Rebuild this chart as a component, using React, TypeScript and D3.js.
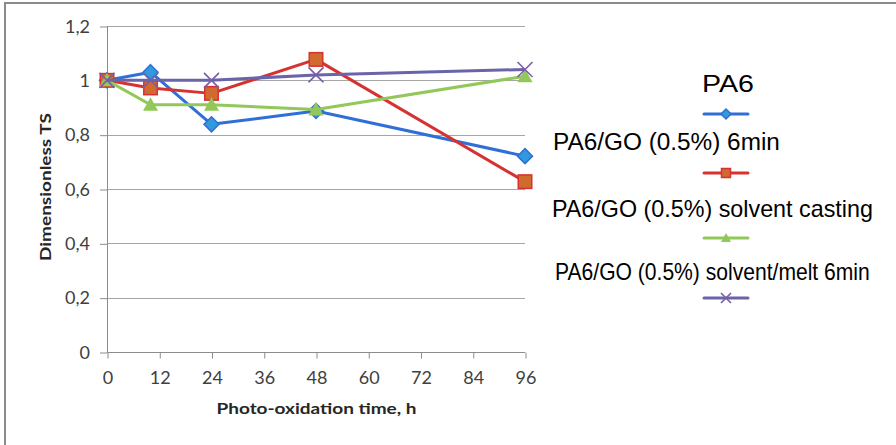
import { useEffect, useRef } from "react";
import * as d3 from "d3";

// photo-oxidation times (h) at which TS was measured
const times = [0, 10, 24, 48, 96];
const pa6 = [1.0, 1.03, 0.838, 0.887, 0.721];
const pa6go6min = [1.0, 0.972, 0.952, 1.077, 0.627];
const pa6goCasting = [1.0, 0.91, 0.91, 0.893, 1.015];
const pa6goSolventMelt = [1.0, 1.0, 1.0, 1.02, 1.04];

const seriesNames = [
  "PA6",
  "PA6/GO (0.5%) 6min",
  "PA6/GO (0.5%) solvent casting",
  "PA6/GO (0.5%) solvent/melt 6min",
];
const xTicks = [0, 12, 24, 36, 48, 60, 72, 84, 96];
const yTicks = [0, 0.2, 0.4, 0.6, 0.8, 1, 1.2];

const WIDTH = 896;
const HEIGHT = 445;

type MarkerKind = "diamond" | "square" | "triangle" | "cross";

const STYLES: { line: string; fill: string; stroke: string; marker: MarkerKind }[] = [
  { line: "#2f6fd6", fill: "#3399dd", stroke: "#2f6fd6", marker: "diamond" },
  { line: "#d73232", fill: "#d06a2e", stroke: "#d73232", marker: "square" },
  { line: "#92c85a", fill: "#92c85a", stroke: "#92c85a", marker: "triangle" },
  { line: "#6a64a8", fill: "none", stroke: "#7a5fa8", marker: "cross" },
];

// legend placement (text start, baseline, width; symbol y)
const LEGEND = [
  { x: 702, y: 91.5, w: 52, sy: 114 },
  { x: 553, y: 150, w: 227, sy: 173 },
  { x: 552, y: 216.5, w: 321, sy: 238 },
  { x: 555, y: 280, w: 315, sy: 298 },
];

function drawMarker(
  g: d3.Selection<SVGGElement, unknown, null, undefined>,
  kind: MarkerKind,
  cx: number,
  cy: number,
  s: number,
  st: { fill: string; stroke: string }
) {
  if (kind === "diamond") {
    g.append("path")
      .attr("d", `M${cx},${cy - s}L${cx + s},${cy}L${cx},${cy + s}L${cx - s},${cy}Z`)
      .attr("fill", st.fill)
      .attr("stroke", st.stroke)
      .attr("stroke-width", 1.5);
  } else if (kind === "square") {
    g.append("rect")
      .attr("x", cx - s * 0.9)
      .attr("y", cy - s * 0.9)
      .attr("width", s * 1.8)
      .attr("height", s * 1.8)
      .attr("fill", st.fill)
      .attr("stroke", st.stroke)
      .attr("stroke-width", 1.5);
  } else if (kind === "triangle") {
    g.append("path")
      .attr("d", `M${cx},${cy - s}L${cx + s},${cy + s * 0.8}L${cx - s},${cy + s * 0.8}Z`)
      .attr("fill", st.fill);
  } else {
    g.append("path")
      .attr("d", `M${cx - s},${cy - s}L${cx + s},${cy + s}M${cx - s},${cy + s}L${cx + s},${cy - s}`)
      .attr("stroke", st.stroke)
      .attr("stroke-width", 1.6)
      .attr("fill", "none");
  }
}

function Chart() {
  const ref = useRef<SVGSVGElement | null>(null);

  useEffect(() => {
    if (!ref.current) return;
    const svg = d3.select(ref.current);
    svg.selectAll("*").remove();

    const x = d3.scaleLinear().domain([0, 96]).range([107, 525]);
    const y = d3.scaleLinear().domain([0, 1.2]).range([352, 26]);

    // outer frame
    svg
      .append("rect")
      .attr("x", 5)
      .attr("y", 3)
      .attr("width", WIDTH + 20)
      .attr("height", HEIGHT + 20)
      .attr("fill", "#fff")
      .attr("stroke", "#8a8a8a")
      .attr("stroke-width", 2);

    // gridlines
    svg
      .append("g")
      .selectAll("line")
      .data(yTicks.filter((d) => d > 0))
      .join("line")
      .attr("x1", x(0))
      .attr("x2", x(96))
      .attr("y1", (d) => Math.round(y(d)) + 0.5)
      .attr("y2", (d) => Math.round(y(d)) + 0.5)
      .attr("stroke", "#a6a6a6");

    const fmt = (d: number) => (d === 0 || d === 1 ? String(d) : d3.format(".1f")(d).replace(".", ","));

    // y axis
    const yAxis = svg
      .append("g")
      .attr("transform", `translate(${x(0)},0.5)`)
      .call(d3.axisLeft(y).tickValues(yTicks).tickSize(7).tickPadding(10).tickFormat((d) => fmt(+d)));
    yAxis.select(".domain").remove();
    yAxis.selectAll("line").attr("stroke", "#8c8c8c");
    yAxis
      .selectAll("text")
      .attr("font-family", "Lato, 'Open Sans', sans-serif")
      .attr("font-size", 18)
      .attr("fill", "#404040");

    // x axis
    const xAxis = svg
      .append("g")
      .attr("transform", `translate(0.5,${Math.round(y(0)) + 0.5})`)
      .call(d3.axisBottom(x).tickValues(xTicks).tickSize(6).tickPadding(13).tickFormat((d) => String(d)));
    xAxis.select(".domain").remove();
    xAxis.selectAll("line").attr("stroke", "#8c8c8c");
    xAxis
      .selectAll("text")
      .attr("font-family", "Lato, 'Open Sans', sans-serif")
      .attr("font-size", 18)
      .attr("fill", "#404040");

    // axis lines
    svg
      .append("line")
      .attr("x1", x(0) + 0.5)
      .attr("x2", x(0) + 0.5)
      .attr("y1", y(1.2))
      .attr("y2", y(0))
      .attr("stroke", "#8c8c8c");
    svg
      .append("line")
      .attr("x1", x(0))
      .attr("x2", x(96))
      .attr("y1", Math.round(y(0)) + 0.5)
      .attr("y2", Math.round(y(0)) + 0.5)
      .attr("stroke", "#8c8c8c");

    // axis titles
    svg
      .append("text")
      .attr("transform", `translate(50.5,187) rotate(-90)`)
      .attr("text-anchor", "middle")
      .attr("font-family", "Lato, 'Open Sans', sans-serif")
      .attr("font-weight", "bold")
      .attr("font-size", 15)
      .attr("textLength", 148)
      .attr("lengthAdjust", "spacingAndGlyphs")
      .attr("fill", "#262626")
      .text("Dimensionless TS");
    svg
      .append("text")
      .attr("x", 316.5)
      .attr("y", 414)
      .attr("text-anchor", "middle")
      .attr("font-family", "Lato, 'Open Sans', sans-serif")
      .attr("font-weight", "bold")
      .attr("font-size", 16)
      .attr("textLength", 200)
      .attr("lengthAdjust", "spacingAndGlyphs")
      .attr("fill", "#262626")
      .text("Photo-oxidation time, h");

    // series
    const allSeries = [pa6, pa6go6min, pa6goCasting, pa6goSolventMelt];
    const line = d3
      .line<number>()
      .x((_, i) => x(times[i]))
      .y((d) => y(d));

    allSeries.forEach((values, si) => {
      const st = STYLES[si];
      const g = svg.append("g");
      g.append("path")
        .attr("d", line(values))
        .attr("fill", "none")
        .attr("stroke", st.line)
        .attr("stroke-width", 3)
        .attr("stroke-linejoin", "round");
      values.forEach((v, i) => drawMarker(g, st.marker, x(times[i]), y(v), 7.5, st));
    });

    // legend: text is squeezed horizontally to the widths seen in the reference
    LEGEND.forEach((l, si) => {
      const st = STYLES[si];
      const g = svg.append("g");
      const t = g
        .append("text")
        .attr("font-family", "'Liberation Sans', Arial, sans-serif")
        .attr("font-size", 24)
        .attr("fill", "#000")
        .text(seriesNames[si]);
      const natural = (t.node() as SVGTextElement).getComputedTextLength() || l.w;
      t.attr("transform", `translate(${l.x},${l.y}) scale(${l.w / natural},1)`);
      g.append("line")
        .attr("x1", 704)
        .attr("x2", 748)
        .attr("y1", l.sy)
        .attr("y2", l.sy)
        .attr("stroke", st.line)
        .attr("stroke-width", 3)
        .attr("stroke-linecap", "round");
      drawMarker(g, st.marker, 726, l.sy, 5, st);
    });
  }, []);

  return (
    <svg
      ref={ref}
      width={WIDTH}
      height={HEIGHT}
      style={{ position: "absolute", left: 0, top: 0, display: "block" }}
    />
  );
}

export default function App() {
  return <Chart />;
}
